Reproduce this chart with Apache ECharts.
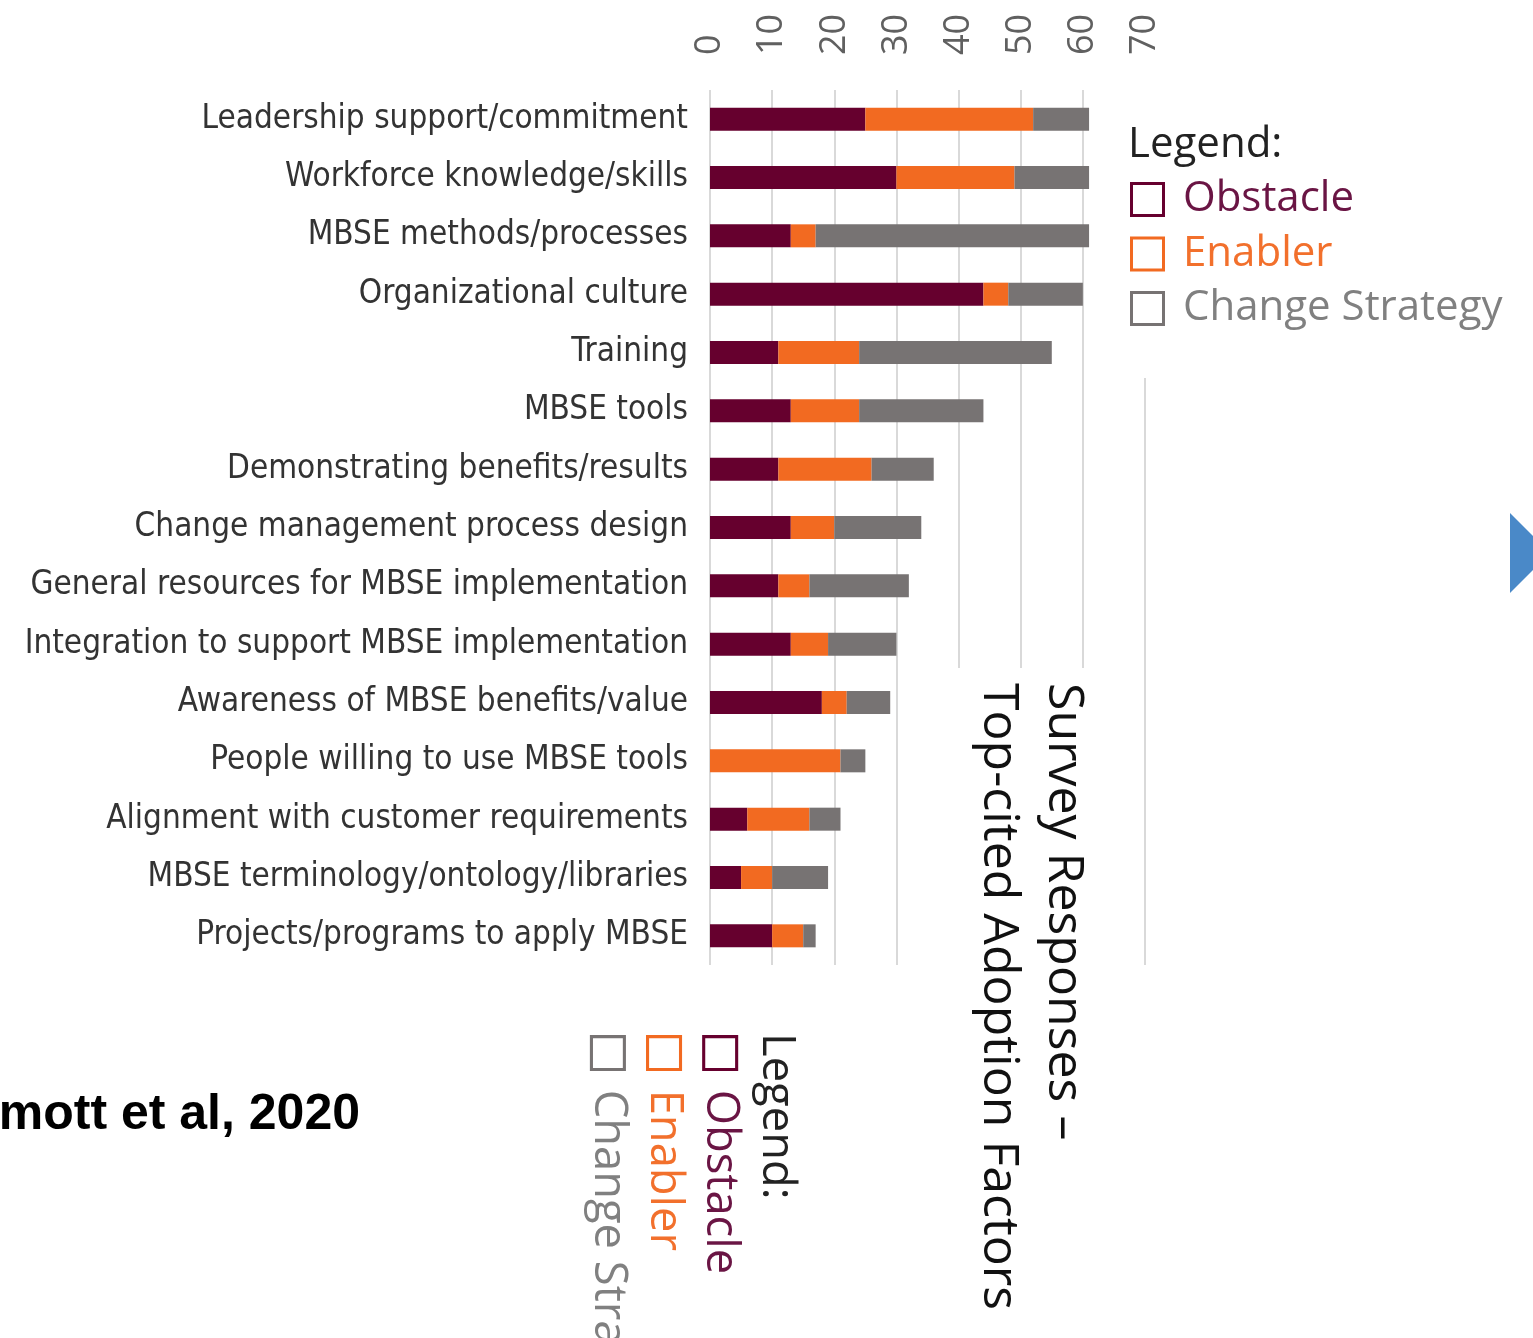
<!DOCTYPE html>
<html><head><meta charset="utf-8">
<script src="https://cdn.jsdelivr.net/npm/echarts@6/dist/echarts.min.js"></script>
<style>html,body{margin:0;padding:0;background:#fff}#c{width:1533px;height:1338px}</style>
</head><body><div id="c"></div>
<script>
const categories = [
  'Leadership support/commitment',
  'Workforce knowledge/skills',
  'MBSE methods/processes',
  'Organizational culture',
  'Training',
  'MBSE tools',
  'Demonstrating benefits/results',
  'Change management process design',
  'General resources for MBSE implementation',
  'Integration to support MBSE implementation',
  'Awareness of MBSE benefits/value',
  'People willing to use MBSE tools',
  'Alignment with customer requirements',
  'MBSE terminology/ontology/libraries',
  'Projects/programs to apply MBSE'
];
const obstacle       = [25, 30, 13, 44, 11, 13, 11, 13, 11, 13, 18,  0,  6,  5, 10];
const enabler        = [27, 19,  4,  4, 13, 11, 15,  7,  5,  6,  4, 21, 10,  5,  5];
const changeStrategy = [ 9, 12, 44, 12, 31, 20, 10, 14, 16, 11,  7,  4,  5,  9,  2];
const seriesNames = ['Obstacle', 'Enabler', 'Change Strategy'];
const legendTitle = 'Legend:';
const titleLines = ['Survey Responses \u2013', 'Top-cited Adoption Factors'];
const citation = 'mott et al, 2020';

const barColors = ['#66002e', '#f26a21', '#777373'];
const legendTextColors = ['#6a1544', '#f2702c', '#808080'];

function legendChildren(fs, rowGap) {
  const ch = [];
  ch.push({type:'text', z:6, x:0, y:23, style:{text:legendTitle, fill:'#222', font:fs+'px "Open Sans"', align:'left', verticalAlign:'middle'}});
  seriesNames.forEach((n,i)=>{
    const cy = 23 + (i+1)*rowGap;
    ch.push({type:'rect', z:6, shape:{x:3.5, y:cy-16, width:32, height:32}, style:{fill:'none', stroke:barColors[i], lineWidth:3}});
    ch.push({type:'text', z:6, x:55, y:cy, style:{text:n, fill:legendTextColors[i], font:fs+'px "Open Sans"', align:'left', verticalAlign:'middle'}});
  });
  return ch;
}

const chart = echarts.init(document.getElementById('c'), null, {renderer:'canvas'});
chart.setOption({
  animation:false,
  backgroundColor:'#fff',
  grid:{left:710, right:388, top:90, bottom:373, containLabel:false, outerBoundsMode:'none'},
  xAxis:{
    type:'value', position:'top', min:0, max:70, interval:10,
    axisLine:{show:false}, axisTick:{show:false},
    splitLine:{show:true, lineStyle:{color:'#d9d9d9', width:2}},
    axisLabel:{rotate:-90, fontSize:36, color:'#606060', fontFamily:'Open Sans', margin:35}
  },
  yAxis:{
    type:'category', data:categories, inverse:true,
    axisLine:{show:false}, axisTick:{show:false},
    axisLabel:{fontSize:33, color:'#333', fontFamily:'"Liberation Sans Narrow","DejaVu Sans Condensed",sans-serif', margin:22}
  },
  series:[
    {name:seriesNames[0], type:'bar', stack:'t', data:obstacle, barWidth:23, itemStyle:{color:barColors[0]}},
    {name:seriesNames[1], type:'bar', stack:'t', data:enabler, barWidth:23, itemStyle:{color:barColors[1]}},
    {name:seriesNames[2], type:'bar', stack:'t', data:changeStrategy, barWidth:23, itemStyle:{color:barColors[2]}}
  ],
  graphic:[
    {type:'rect', z:1, shape:{x:935, y:668, width:180, height:330}, style:{fill:'#fff'}},
    {type:'rect', z:1, shape:{x:1110, y:60, width:423, height:318}, style:{fill:'#fff'}},
    {type:'text', z:5, x:1088, y:683, rotation:-Math.PI/2, style:{text:titleLines[0], fill:'#111', font:'50px "Open Sans"', align:'left', verticalAlign:'top'}},
    {type:'text', z:5, x:1023, y:683, rotation:-Math.PI/2, style:{text:titleLines[1], fill:'#111', font:'50px "Open Sans"', align:'left', verticalAlign:'top'}},
    {type:'group', z:5, x:1128, y:122, children:legendChildren(42, 54.5)},
    {type:'group', z:5, x:800, y:1033, rotation:-Math.PI/2, scaleX:1.03, scaleY:1.03, children:legendChildren(44, 54.5)},
    {type:'polygon', z:5, shape:{points:[[1510,513],[1550,553],[1510,593]]}, style:{fill:'#4a89c8'}},
    {type:'text', z:5, x:360, y:1115, style:{text:citation, fill:'#000', font:'bold 50px "Liberation Sans", Arial, sans-serif', align:'right', verticalAlign:'middle'}}
  ]
});
</script></body></html>
